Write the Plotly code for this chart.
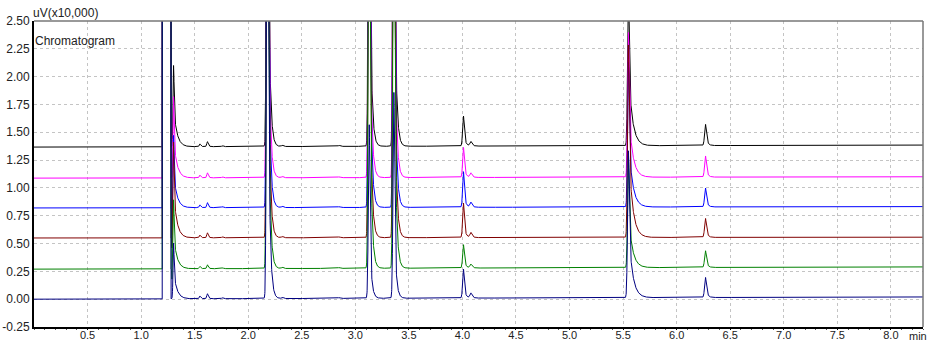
import numpy as np
import plotly.graph_objects as go

# ---------------- data ----------------
time_range = [0.0, 8.3]
time_step = 0.001

trace_names = ["Run 6", "Run 5", "Run 4", "Run 3", "Run 2", "Run 1"]
trace_colors = ["#000000", "#FF00FF", "#0000FF", "#800000", "#008000", "#000080"]

# baseline level (x10,000 uV) at start and end of the run
baseline_start = [1.367, 1.088, 0.820, 0.550, 0.270, 0.000]
baseline_end = [1.385, 1.100, 0.832, 0.557, 0.290, 0.020]

# injection disturbance (off-scale) window, min
inject_window = [1.198, 1.280]
inject_level = 4.0

# peak retention times (min) and shape widths
peak_times = [1.288, 1.303, 1.55, 1.62, 1.76, 2.18, 2.32, 2.85, 3.13, 3.36, 4.01, 4.08, 5.55, 6.27]
peak_sigma = [0.002, 0.005, 0.007, 0.007, 0.007, 0.008, 0.009, 0.009, 0.008, 0.008, 0.008, 0.010, 0.008, 0.009]
peak_tail = [0.002, 0.030, 0.012, 0.012, 0.012, 0.016, 0.012, 0.012, 0.016, 0.016, 0.016, 0.016, 0.035, 0.016]

# peak heights above baseline for each run (same order as peak_times)
heights_black = [0.00, 0.73, 0.025, 0.045, 0.010, 6.0, 0.012, 0.010, 5.0, 5.0, 0.27, 0.040, 1.40, 0.19]
heights_magenta = [0.00, 0.73, 0.025, 0.045, 0.010, 6.0, 0.012, 0.008, 5.0, 5.0, 0.27, 0.040, 1.30, 0.19]
heights_blue = [-0.35, 0.65, 0.025, 0.045, 0.010, 6.0, 0.012, 0.008, 5.0, 5.0, 0.32, 0.045, 1.30, 0.17]
heights_maroon = [-0.10, 0.86, 0.025, 0.045, 0.010, 6.0, 0.012, 0.008, 5.0, 5.0, 0.31, 0.045, 1.73, 0.17]
heights_green = [-0.10, 0.62, 0.020, 0.035, 0.008, 6.0, 0.012, 0.008, 5.0, 5.0, 0.21, 0.035, 1.00, 0.15]
heights_navy = [0.00, 0.50, 0.025, 0.045, 0.010, 6.0, 0.012, 0.008, 1.56, 1.85, 0.26, 0.045, 1.32, 0.18]
heights_all = [heights_black, heights_magenta, heights_blue, heights_maroon, heights_green, heights_navy]

y_ticks = [-0.25, 0.00, 0.25, 0.50, 0.75, 1.00, 1.25, 1.50, 1.75, 2.00, 2.25, 2.50]
x_ticks = [0.5, 1.0, 1.5, 2.0, 2.5, 3.0, 3.5, 4.0, 4.5, 5.0, 5.5, 6.0, 6.5, 7.0, 7.5, 8.0]


# ---------------- build signals from the peak table ----------------
def peak_shape(t, tr, h, s, tau):
    x = t - tr
    g = np.exp(-0.5 * (x / s) ** 2)
    right = 0.5 * g + 0.5 * np.exp(-np.clip(x, 0, None) / tau)
    return h * np.where(x < 0, g, right)


t = np.arange(time_range[0], time_range[1] + time_step / 2, time_step)

fig = go.Figure()
for name, color, b0, b1, heights in zip(trace_names, trace_colors, baseline_start,
                                        baseline_end, heights_all):
    y = np.interp(t, time_range, [b0, b1])
    for tr, h, s, tau in zip(peak_times, heights, peak_sigma, peak_tail):
        y = y + peak_shape(t, tr, h, s, tau)
    inj = (t >= inject_window[0]) & (t < inject_window[1])
    y = np.where(inj, inject_level, y)
    fig.add_trace(go.Scatter(x=t, y=y, mode="lines", name=name,
                             line=dict(color=color, width=1), hoverinfo="skip"))

fig.update_layout(
    width=927, height=341,
    margin=dict(l=34, r=4, t=21, b=14, autoexpand=False),
    paper_bgcolor="white", plot_bgcolor="white",
    showlegend=False,
    font=dict(family="Liberation Sans, Arial, sans-serif", size=12, color="#222222"),
)
fig.update_xaxes(
    range=time_range, automargin=False,
    tickvals=x_ticks, ticktext=[f"{v:.1f}" for v in x_ticks],
    tickfont=dict(size=11),
    ticklabelstandoff=-4,
    showgrid=True, gridcolor="#c4c4c4", griddash="3px,3px", gridwidth=1,
    showline=True, linecolor="#000000", linewidth=2,
    ticks="outside", ticklen=1, tickcolor="#000000",
    minor=dict(dtick=0.1, ticks="outside", ticklen=1, tickcolor="#555555", showgrid=False),
    zeroline=False,
)
fig.update_yaxes(
    range=[-0.25, 2.5], automargin=False,
    tickvals=y_ticks, ticktext=[f"{v:.2f}" for v in y_ticks],
    showgrid=True, gridcolor="#c4c4c4", griddash="3px,3px", gridwidth=1,
    showline=True, linecolor="#000000", linewidth=2,
    ticks="", zeroline=False,
)
# top / right frame in gray
fig.add_shape(type="line", xref="paper", yref="paper", x0=0, x1=1, y0=1, y1=1,
              line=dict(color="#777777", width=1.5), layer="above")
fig.add_shape(type="line", xref="paper", yref="paper", x0=1, x1=1, y0=0, y1=1,
              line=dict(color="#777777", width=1.5), layer="above")

fig.add_annotation(text="uV(x10,000)", xref="paper", yref="paper", x=0, y=1,
                   xanchor="left", yanchor="bottom", showarrow=False,
                   font=dict(size=12, color="#222222"), borderpad=0, xshift=-2)
fig.add_annotation(text="Chromatogram", xref="paper", yref="y", x=0, y=2.32,
                   xanchor="left", yanchor="middle", showarrow=False,
                   font=dict(size=12, color="#222222"), borderpad=0)
fig.add_annotation(text="min", xref="x", yref="paper", x=8.16, y=0,
                   xanchor="left", yanchor="top", showarrow=False,
                   font=dict(size=11, color="#222222"), borderpad=0, yshift=-2)

# remove the default page margin so the figure fills the window exactly
fig.write_html("out.html", config={"displayModeBar": False},
               post_script="document.body.style.margin='0';document.body.style.overflow='hidden';")
